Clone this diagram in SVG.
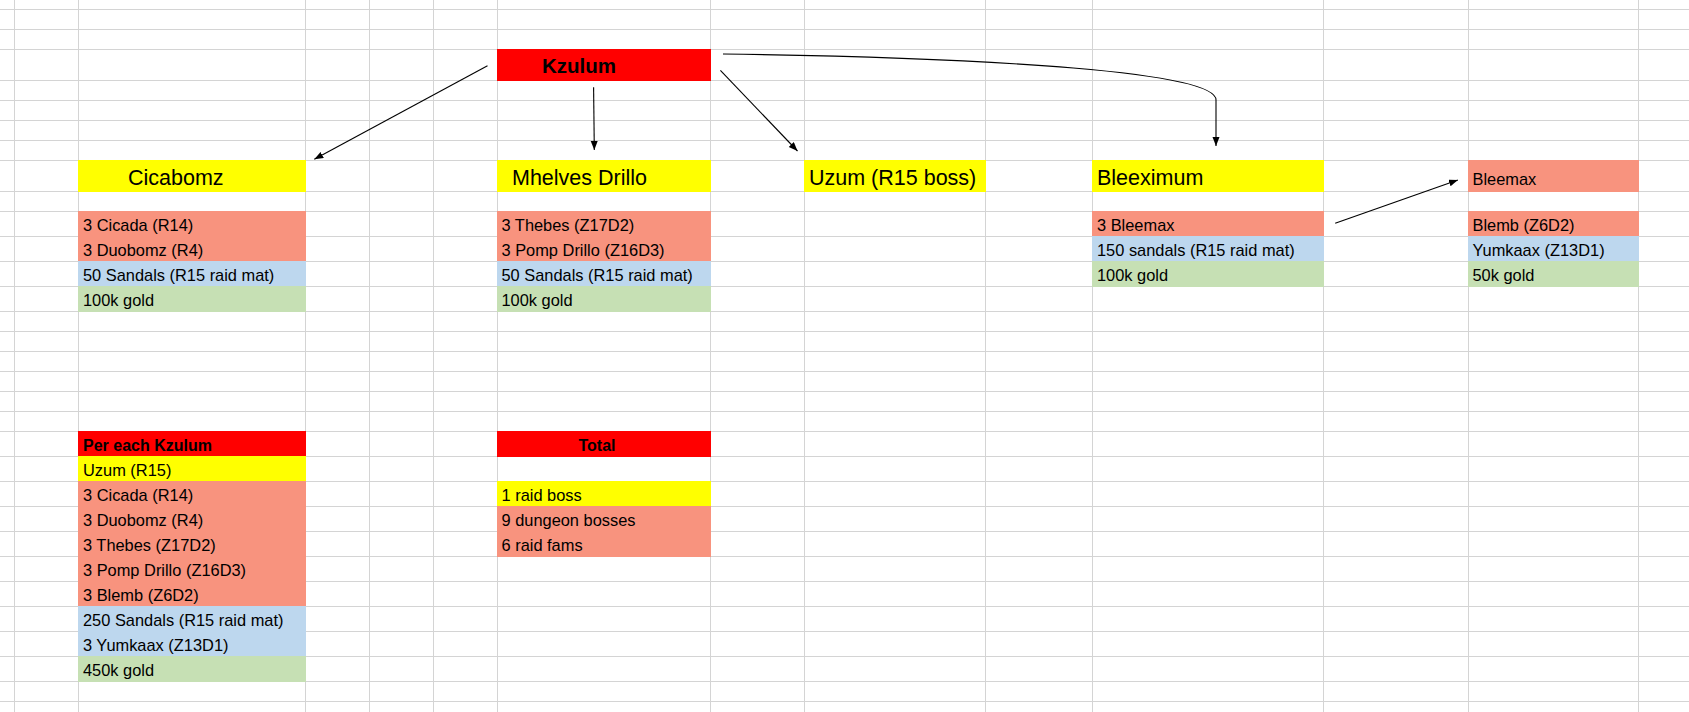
<svg xmlns="http://www.w3.org/2000/svg" width="1689" height="712" viewBox="0 0 1689 712">
<defs>
<marker id="ah" markerUnits="userSpaceOnUse" markerWidth="10" markerHeight="8" refX="9" refY="3.5" orient="auto">
<path d="M0,0 L9,3.5 L0,7 z" fill="#000"/>
</marker>
</defs>
<style>
.g line{stroke:#D4D4D4;stroke-width:1}
.red{fill:#FF0000}.yel{fill:#FFFF00}.sal{fill:#F8937E}.blu{fill:#BDD7EE}.grn{fill:#C6E0B4}
text{font-family:"Liberation Sans",Arial,sans-serif;fill:#000}
.t{font-size:16.4px}
.h{font-size:21.5px}
.b{font-size:16px;font-weight:bold}
.k{font-size:20.5px;font-weight:bold}
.c path,.c line{stroke:#000;stroke-width:1.1;fill:none}
</style>
<rect x="0" y="0" width="1689" height="712" fill="#FFFFFF"/>
<g class="g" id="grid">
<line x1="0" y1="9.5" x2="1689" y2="9.5"/>
<line x1="0" y1="29.5" x2="1689" y2="29.5"/>
<line x1="0" y1="49.5" x2="1689" y2="49.5"/>
<line x1="0" y1="80.5" x2="1689" y2="80.5"/>
<line x1="0" y1="100.5" x2="1689" y2="100.5"/>
<line x1="0" y1="120.5" x2="1689" y2="120.5"/>
<line x1="0" y1="140.5" x2="1689" y2="140.5"/>
<line x1="0" y1="160.5" x2="1689" y2="160.5"/>
<line x1="0" y1="191.5" x2="1689" y2="191.5"/>
<line x1="0" y1="211.5" x2="1689" y2="211.5"/>
<line x1="0" y1="236.5" x2="1689" y2="236.5"/>
<line x1="0" y1="261.5" x2="1689" y2="261.5"/>
<line x1="0" y1="286.5" x2="1689" y2="286.5"/>
<line x1="0" y1="311.5" x2="1689" y2="311.5"/>
<line x1="0" y1="331.5" x2="1689" y2="331.5"/>
<line x1="0" y1="351.5" x2="1689" y2="351.5"/>
<line x1="0" y1="371.5" x2="1689" y2="371.5"/>
<line x1="0" y1="391.5" x2="1689" y2="391.5"/>
<line x1="0" y1="411.5" x2="1689" y2="411.5"/>
<line x1="0" y1="431.5" x2="1689" y2="431.5"/>
<line x1="0" y1="456.5" x2="1689" y2="456.5"/>
<line x1="0" y1="481.5" x2="1689" y2="481.5"/>
<line x1="0" y1="506.5" x2="1689" y2="506.5"/>
<line x1="0" y1="531.5" x2="1689" y2="531.5"/>
<line x1="0" y1="556.5" x2="1689" y2="556.5"/>
<line x1="0" y1="581.5" x2="1689" y2="581.5"/>
<line x1="0" y1="606.5" x2="1689" y2="606.5"/>
<line x1="0" y1="631.5" x2="1689" y2="631.5"/>
<line x1="0" y1="656.5" x2="1689" y2="656.5"/>
<line x1="0" y1="681.5" x2="1689" y2="681.5"/>
<line x1="0" y1="701.5" x2="1689" y2="701.5"/>
<line x1="14.5" y1="0" x2="14.5" y2="712"/>
<line x1="78.5" y1="0" x2="78.5" y2="712"/>
<line x1="305.5" y1="0" x2="305.5" y2="712"/>
<line x1="369.5" y1="0" x2="369.5" y2="712"/>
<line x1="433.5" y1="0" x2="433.5" y2="712"/>
<line x1="497.5" y1="0" x2="497.5" y2="712"/>
<line x1="710.5" y1="0" x2="710.5" y2="712"/>
<line x1="804.5" y1="0" x2="804.5" y2="712"/>
<line x1="985.5" y1="0" x2="985.5" y2="712"/>
<line x1="1092.5" y1="0" x2="1092.5" y2="712"/>
<line x1="1323.5" y1="0" x2="1323.5" y2="712"/>
<line x1="1468.5" y1="0" x2="1468.5" y2="712"/>
<line x1="1638.5" y1="0" x2="1638.5" y2="712"/>
</g>

<g id="kzulum">
<rect class="red" x="497" y="49" width="214" height="32"/>
<text class="k" x="542" y="73.3">Kzulum</text>
</g>

<g id="cicabomz">
<rect class="yel" x="78" y="160" width="228" height="32"/>
<text class="h" x="128" y="185">Cicabomz</text>
<rect class="sal" x="78" y="211" width="228" height="51"/>
<rect class="blu" x="78" y="261" width="228" height="26"/>
<rect class="grn" x="78" y="286" width="228" height="26"/>
<text class="t" x="83" y="231">3 Cicada (R14)</text>
<text class="t" x="83" y="256">3 Duobomz (R4)</text>
<text class="t" x="83" y="281">50 Sandals (R15 raid mat)</text>
<text class="t" x="83" y="306">100k gold</text>
</g>

<g id="mhelves">
<rect class="yel" x="497" y="160" width="214" height="32"/>
<text class="h" x="512" y="185">Mhelves Drillo</text>
<rect class="sal" x="497" y="211" width="214" height="51"/>
<rect class="blu" x="497" y="261" width="214" height="26"/>
<rect class="grn" x="497" y="286" width="214" height="26"/>
<text class="t" x="501.5" y="231">3 Thebes (Z17D2)</text>
<text class="t" x="501.5" y="256">3 Pomp Drillo (Z16D3)</text>
<text class="t" x="501.5" y="281">50 Sandals (R15 raid mat)</text>
<text class="t" x="501.5" y="306">100k gold</text>
</g>

<g id="uzum">
<rect class="yel" x="804" y="160" width="182" height="32"/>
<text class="h" x="809" y="185">Uzum (R15 boss)</text>
</g>

<g id="bleeximum">
<rect class="yel" x="1092" y="160" width="232" height="32"/>
<text class="h" x="1097" y="185">Bleeximum</text>
<rect class="sal" x="1092" y="211" width="232" height="26"/>
<rect class="blu" x="1092" y="236" width="232" height="26"/>
<rect class="grn" x="1092" y="261" width="232" height="26"/>
<text class="t" x="1097" y="231">3 Bleemax</text>
<text class="t" x="1097" y="256">150 sandals (R15 raid mat)</text>
<text class="t" x="1097" y="281">100k gold</text>
</g>

<g id="bleemax">
<rect class="sal" x="1468" y="160" width="171" height="32"/>
<text class="t" x="1472.5" y="185">Bleemax</text>
<rect class="sal" x="1468" y="211" width="171" height="26"/>
<rect class="blu" x="1468" y="236" width="171" height="26"/>
<rect class="grn" x="1468" y="261" width="171" height="26"/>
<text class="t" x="1472.5" y="231">Blemb (Z6D2)</text>
<text class="t" x="1472.5" y="256">Yumkaax (Z13D1)</text>
<text class="t" x="1472.5" y="281">50k gold</text>
</g>

<g id="per-each">
<rect class="red" x="78" y="431" width="228" height="26"/>
<text class="b" x="83" y="451">Per each Kzulum</text>
<rect class="yel" x="78" y="456" width="228" height="26"/>
<rect class="sal" x="78" y="481" width="228" height="126"/>
<rect class="blu" x="78" y="606" width="228" height="51"/>
<rect class="grn" x="78" y="656" width="228" height="26"/>
<text class="t" x="83" y="476">Uzum (R15)</text>
<text class="t" x="83" y="501">3 Cicada (R14)</text>
<text class="t" x="83" y="526">3 Duobomz (R4)</text>
<text class="t" x="83" y="551">3 Thebes (Z17D2)</text>
<text class="t" x="83" y="576">3 Pomp Drillo (Z16D3)</text>
<text class="t" x="83" y="601">3 Blemb (Z6D2)</text>
<text class="t" x="83" y="626">250 Sandals (R15 raid mat)</text>
<text class="t" x="83" y="651">3 Yumkaax (Z13D1)</text>
<text class="t" x="83" y="676">450k gold</text>
</g>

<g id="total">
<rect class="red" x="497" y="431" width="214" height="26"/>
<text class="b" x="597" y="451" text-anchor="middle">Total</text>
<rect class="yel" x="497" y="481" width="214" height="26"/>
<rect class="sal" x="497" y="506" width="214" height="51"/>
<text class="t" x="501.5" y="501">1 raid boss</text>
<text class="t" x="501.5" y="526">9 dungeon bosses</text>
<text class="t" x="501.5" y="551">6 raid fams</text>
</g>

<g class="c" id="connectors">
<line x1="487.5" y1="65.7" x2="314.3" y2="159.3" marker-end="url(#ah)"/>
<line x1="593.6" y1="87.3" x2="594.3" y2="150" marker-end="url(#ah)"/>
<line x1="720.4" y1="70.3" x2="797.5" y2="151" marker-end="url(#ah)"/>
<path d="M723,54 C1000,58 1216,72 1216,100 L1216,146" marker-end="url(#ah)"/>
<line x1="1335.2" y1="223.3" x2="1457.9" y2="180" marker-end="url(#ah)"/>
</g>
</svg>
